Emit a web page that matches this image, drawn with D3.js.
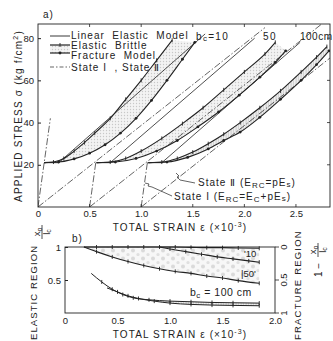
<!DOCTYPE html>
<html><head><meta charset="utf-8">
<script src="https://cdn.jsdelivr.net/npm/d3@7"></script>
<style>
body{margin:0;background:#fff;}
text{font-family:"Liberation Sans",Arial,sans-serif;fill:#222;}
</style></head>
<body><svg id="c" width="333" height="341"></svg>
<script>
// ---------- DATA (top chart a) ----------
const xTicksA = [0, 0.5, 1.0, 1.5, 2.0, 2.5];
const xTickLabelsA = ["0", "0.5", "1.0", "1.5", "2.0", "2.5"];
const yTicksA = [20, 40, 60, 80];
const groupNames = ["b\u2009c=10", "50", "100cm"];
// state I lines (dash-dot), per group
const stateI_1 = [[0, 0], [0.12, 42]];
const stateI_2 = [[0.5, 0], [0.56, 21]];
const stateI_3 = [[1.0, 0], [1.06, 21]];
// state II lines (dash-dot), per group
const stateII_1 = [[0, 0], [2.2, 85]];
const stateII_2 = [[0.5, 0], [2.75, 86.7]];
const stateII_3 = [[1.0, 0], [2.83, 70.6]];
// linear elastic model (solid)
const linear_1 = [[0.06, 21], [0.2, 21], [1.62, 82]];
const linear_2 = [[0.56, 21], [0.7, 21], [2.1, 80]];
const linear_3 = [[1.06, 21], [1.2, 21], [2.54, 78]];
// elastic brittle (upper) and fracture model (lower) curves
const brittle_1 = [[0.06,21],[0.15,21.3],[0.25,23],[0.35,26.5],[0.45,30.5],[0.55,35],[0.7,42],[0.85,51],[1.0,60],[1.15,69.5],[1.3,79]];
const fracture_1 = [[0.06,21],[0.2,21.3],[0.35,22.8],[0.5,25.5],[0.65,29.5],[0.8,35],[0.95,42],[1.1,50.5],[1.25,60],[1.4,70],[1.52,78]];
const brittle_2 = [[0.57,21],[0.7,21.3],[0.85,23],[1.0,26.5],[1.2,32.5],[1.4,39.5],[1.6,47],[1.8,55.5],[2.0,64],[2.2,72.5],[2.3,78]];
const fracture_2 = [[0.57,21],[0.75,21.3],[0.95,23],[1.15,26.5],[1.35,31.5],[1.55,38],[1.75,45],[1.95,53],[2.15,61.5],[2.3,68.5],[2.4,74]];
const brittle_3 = [[1.07,21],[1.2,21.3],[1.35,23],[1.5,26],[1.65,30],[1.8,34.5],[1.96,40],[2.15,47],[2.35,55],[2.55,64],[2.7,71],[2.8,76]];
const fracture_3 = [[1.07,21],[1.25,21.3],[1.45,23.5],[1.65,27.5],[1.8,31.5],[1.96,35.5],[2.15,42.5],[2.35,51],[2.55,60],[2.7,67.5],[2.82,74]];

// ---------- DATA (bottom chart b) ----------
const xTicksB = [0, 0.5, 1.0, 1.5, 2.0];
const xTickLabelsB = ["0", "0.5", "1.0", "1.5", "2.0"];
const yTicksBLeft = [0.5, 1];
const yTicksBRight = [0, 0.5, 1];
const b10_upper = [[0.18,1.0],[0.3,1.0],[0.45,1.0],[0.6,1.0],[0.75,1.0],[0.9,1.0],[1.05,1.0],[1.2,0.995],[1.35,0.99],[1.5,0.99],[1.65,0.985],[1.85,0.98]];
const b10_lower = [[0.9,1.0],[1.0,0.97],[1.15,0.93],[1.3,0.89],[1.45,0.85],[1.6,0.82],[1.75,0.79],[1.85,0.77]];
const b50_lower = [[0.18,1.0],[0.3,0.93],[0.45,0.85],[0.6,0.78],[0.75,0.72],[0.9,0.67],[1.05,0.63],[1.2,0.6],[1.35,0.56],[1.5,0.53],[1.65,0.49],[1.85,0.45]];
const b100_upper = [[0.25,0.6],[0.35,0.47],[0.45,0.36],[0.55,0.28],[0.65,0.23],[0.8,0.2],[1.0,0.18],[1.2,0.17],[1.4,0.16],[1.6,0.155],[1.85,0.15]];
const b100_lower = [[0.4,0.38],[0.5,0.32],[0.6,0.26],[0.7,0.22],[0.85,0.18],[1.0,0.15],[1.2,0.13],[1.4,0.12],[1.6,0.115],[1.85,0.11]];

const svg = d3.select("#c");
const ink = "#222";
const defs = svg.append("defs");
const dots = defs.append("pattern").attr("id","dots").attr("width",3).attr("height",3).attr("patternUnits","userSpaceOnUse");
dots.append("rect").attr("width",3).attr("height",3).attr("fill","#f3f3f3");
dots.append("circle").attr("cx",1.5).attr("cy",1.5).attr("r",0.7).attr("fill","#c8c8c8");
const hatch = defs.append("pattern").attr("id","hatch").attr("width",2.5).attr("height",4).attr("patternUnits","userSpaceOnUse");
hatch.append("rect").attr("width",2.5).attr("height",4).attr("fill","#f4f4f4");
hatch.append("line").attr("x1",1).attr("x2",1).attr("y1",0).attr("y2",4).attr("stroke","#aaa").attr("stroke-width",0.7);
const blobs = defs.append("pattern").attr("id","blobs").attr("width",10).attr("height",8).attr("patternUnits","userSpaceOnUse");
blobs.append("rect").attr("width",10).attr("height",8).attr("fill","#f7f7f7");
blobs.append("circle").attr("cx",3).attr("cy",2.5).attr("r",2).attr("fill","#dadada");
blobs.append("circle").attr("cx",8).attr("cy",6.5).attr("r",1.6).attr("fill","#e0e0e0");

// ================= CHART A =================
const xA = d3.scaleLinear().domain([0, 2.83]).range([38, 330]);
const yA = d3.scaleLinear().domain([0, 86.7]).range([207, 24]);
const gA = svg.append("g");
const clipA = defs.append("clipPath").attr("id","clipA");
clipA.append("rect").attr("x",38).attr("y",24).attr("width",292).attr("height",183);
const plotA = gA.append("g").attr("clip-path","url(#clipA)");
const lineA = d3.line().x(d=>xA(d[0])).y(d=>yA(d[1]));
const curveA = d3.line().x(d=>xA(d[0])).y(d=>yA(d[1])).curve(d3.curveMonotoneX);
const dashdot = "7,2,1.5,2";

function band(up, lo, fill){
  const poly = up.concat(lo.slice().reverse());
  plotA.append("path").attr("d", d3.line().x(d=>xA(d[0])).y(d=>yA(d[1])).curve(d3.curveLinearClosed)(poly))
    .attr("fill", fill).attr("stroke","none");
}
band(brittle_1, fracture_1, "url(#dots)");
band(brittle_2, fracture_2, "url(#dots)");
band(brittle_3, fracture_3, "url(#hatch)");

[stateI_1, stateI_2, stateI_3, stateII_1, stateII_2, stateII_3].forEach(s=>{
  plotA.append("path").attr("d", lineA(s)).attr("fill","none").attr("stroke",ink).attr("stroke-width",0.7).attr("stroke-dasharray",dashdot);
});
[linear_1, linear_2, linear_3].forEach(s=>{
  plotA.append("path").attr("d", lineA(s)).attr("fill","none").attr("stroke",ink).attr("stroke-width",0.8);
});
function markedCurve(g, line, data, xs, ys, kind, w){
  g.append("path").attr("d", line(data)).attr("fill","none").attr("stroke",ink).attr("stroke-width",w);
  data.slice(1).forEach(d=>{
    if(kind==="plus"){
      g.append("line").attr("x1",xs(d[0])).attr("x2",xs(d[0])).attr("y1",ys(d[1])-2).attr("y2",ys(d[1])+2).attr("stroke",ink).attr("stroke-width",0.9);
    } else {
      g.append("circle").attr("cx",xs(d[0])).attr("cy",ys(d[1])).attr("r",1.4).attr("fill",ink);
    }
  });
}
[brittle_1, brittle_2, brittle_3].forEach(s=>markedCurve(plotA, curveA, s, xA, yA, "plus", 1.1));
[fracture_1, fracture_2, fracture_3].forEach(s=>markedCurve(plotA, curveA, s, xA, yA, "dot", 1.1));

// frame
gA.append("rect").attr("x",38).attr("y",24).attr("width",292).attr("height",183).attr("fill","none").attr("stroke",ink).attr("stroke-width",0.9);
// axes
const axBA = gA.append("g").attr("transform","translate(0,207)")
  .call(d3.axisBottom(xA).tickValues(xTicksA).tickSize(0).tickPadding(3).tickFormat((d,i)=>xTickLabelsA[i]));
const axLA = gA.append("g").attr("transform","translate(38,0)")
  .call(d3.axisLeft(yA).tickValues(yTicksA).tickSize(3).tickPadding(1).tickFormat(d3.format("d")));
[axBA, axLA].forEach(a=>{a.select(".domain").remove(); a.selectAll("text").attr("font-size",9.5).attr("fill",ink).attr("font-family","Liberation Sans, Arial");a.selectAll("line").attr("stroke",ink);});
axLA.selectAll("line").attr("x2",3);
// inner ticks top & right
xTicksA.slice(1).forEach(v=>{gA.append("line").attr("x1",xA(v)).attr("x2",xA(v)).attr("y1",24).attr("y2",27).attr("stroke",ink).attr("stroke-width",0.8);
  gA.append("line").attr("x1",xA(v)).attr("x2",xA(v)).attr("y1",207).attr("y2",204).attr("stroke",ink).attr("stroke-width",0.8);});
yTicksA.forEach(v=>gA.append("line").attr("x1",327).attr("x2",330).attr("y1",yA(v)).attr("y2",yA(v)).attr("stroke",ink).attr("stroke-width",0.8));

// labels
gA.append("text").attr("x",43).attr("y",18).attr("font-size",10).attr("letter-spacing",1).text("a)");
gA.append("text").attr("transform","translate(22,116) rotate(-90)").attr("text-anchor","middle").attr("font-size",10).attr("letter-spacing",1.2)
  .html('APPLIED STRESS &#963; (kg f/cm<tspan dy="-4" font-size="7">2</tspan><tspan dy="4">)</tspan>');
gA.append("text").attr("x",180).attr("y",231).attr("text-anchor","middle").attr("font-size",10).attr("letter-spacing",1.1)
  .html('TOTAL STRAIN &#949; (&#215;10<tspan dy="-4" font-size="7">-3</tspan><tspan dy="4">)</tspan>');
// group labels
gA.append("text").attr("x",196).attr("y",40).attr("font-size",10).attr("letter-spacing",1.3).html('b<tspan font-size="8" dy="1">c</tspan><tspan dy="-1">=10</tspan>');
gA.append("text").attr("x",263).attr("y",40).attr("font-size",10).attr("letter-spacing",1.5).text(groupNames[1]);
gA.append("text").attr("x",300).attr("y",40).attr("font-size",10).attr("letter-spacing",0.5).text(groupNames[2]);

// legend
const lg = gA.append("g");
lg.append("line").attr("x1",50).attr("x2",70).attr("y1",36).attr("y2",36).attr("stroke",ink).attr("stroke-width",0.9);
lg.append("rect").attr("x",50).attr("y",45).attr("width",20).attr("height",8).attr("fill","url(#dots)");
lg.append("line").attr("x1",50).attr("x2",70).attr("y1",45).attr("y2",45).attr("stroke",ink).attr("stroke-width",1.2);
lg.append("line").attr("x1",60).attr("x2",60).attr("y1",43).attr("y2",47).attr("stroke",ink).attr("stroke-width",0.9);
lg.append("line").attr("x1",50).attr("x2",70).attr("y1",53).attr("y2",53).attr("stroke",ink).attr("stroke-width",1.2);
lg.append("circle").attr("cx",60).attr("cy",53).attr("r",1.4).attr("fill",ink);
lg.append("line").attr("x1",50).attr("x2",70).attr("y1",67).attr("y2",67).attr("stroke",ink).attr("stroke-width",0.7).attr("stroke-dasharray","4,2,1.5,2");
const legTexts = [["Linear  Elastic  Model",39],["Elastic  Brittle",49],["Fracture  Model",59],["State I  , State \u2161",71]];
legTexts.forEach(t=>lg.append("text").attr("x",71).attr("y",t[1]).attr("font-size",10).attr("letter-spacing",1).attr("xml:space","preserve").text(t[0]));

// annotations (leader lines)
gA.append("path").attr("d","M176,173 l3,3 l-2,1 l3,3 L195,183").attr("fill","none").attr("stroke",ink).attr("stroke-width",0.7);
gA.append("path").attr("d","M145,183 l4,1 l-1,2 l4,1 L172,196").attr("fill","none").attr("stroke",ink).attr("stroke-width",0.7);
gA.append("text").attr("x",198).attr("y",186).attr("font-size",10).attr("letter-spacing",1)
  .html('State \u2161 (E<tspan font-size="8" dy="2">RC</tspan><tspan dy="-2">=pE</tspan><tspan font-size="8" dy="1">s</tspan><tspan dy="-1">)</tspan>');
gA.append("text").attr("x",174).attr("y",200).attr("font-size",10).attr("letter-spacing",1)
  .html('State I (E<tspan font-size="8" dy="2">RC</tspan><tspan dy="-2">=E</tspan><tspan font-size="8" dy="2">C</tspan><tspan dy="-2">+pE</tspan><tspan font-size="8" dy="1">s</tspan><tspan dy="-1">)</tspan>');

// ================= CHART B =================
const xB = d3.scaleLinear().domain([0, 2.0]).range([65, 275]);
const yB = d3.scaleLinear().domain([0, 1]).range([313, 247]);
const gB = svg.append("g");
const lineB = d3.line().x(d=>xB(d[0])).y(d=>yB(d[1])).curve(d3.curveMonotoneX);
function bandB(up, lo, fill){
  const poly = up.concat(lo.slice().reverse());
  gB.append("path").attr("d", d3.line().x(d=>xB(d[0])).y(d=>yB(d[1])).curve(d3.curveLinearClosed)(poly)).attr("fill",fill);
}
bandB(b10_upper, b50_lower, "url(#blobs)");
bandB(b100_upper.slice(5), b100_lower.slice(4), "url(#hatch)");
[b10_upper, b10_lower, b50_lower].forEach(s=>markedCurve(gB, lineB, s, xB, yB, "plus", 1.1));
[b100_upper, b100_lower].forEach(s=>markedCurve(gB, lineB, s, xB, yB, "plus", 1.0));
gB.append("rect").attr("x",65).attr("y",247).attr("width",210).attr("height",66).attr("fill","none").attr("stroke",ink).attr("stroke-width",0.9);
const axBB = gB.append("g").attr("transform","translate(0,313)")
  .call(d3.axisBottom(xB).tickValues(xTicksB).tickSize(0).tickPadding(4).tickFormat((d,i)=>xTickLabelsB[i]));
const axLB = gB.append("g").attr("transform","translate(65,0)")
  .call(d3.axisLeft(yB).tickValues(yTicksBLeft).tickSize(3).tickPadding(1).tickFormat(d=>d===1?"1":"0.5"));
[axBB, axLB].forEach(a=>{a.select(".domain").remove(); a.selectAll("text").attr("font-size",9.5).attr("fill",ink).attr("font-family","Liberation Sans, Arial");a.selectAll("line").attr("stroke",ink);});
axLB.selectAll("line").attr("x2",3);
// right axis: fracture region (1 - x0/lc), rotated labels
yTicksBRight.forEach(v=>{
  const py = yB(1 - v);
  gB.append("line").attr("x1",275).attr("x2",279).attr("y1",py).attr("y2",py).attr("stroke",ink).attr("stroke-width",0.8);
  gB.append("text").attr("transform",`translate(287,${py}) rotate(-90)`).attr("text-anchor","middle").attr("font-size",9.5).text(v===0?"0":v===1?"1":"0.5");
});
gB.append("text").attr("x",72).attr("y",242).attr("font-size",10).attr("letter-spacing",1).text("b)");
gB.append("text").attr("x",190).attr("y",296).attr("font-size",10.5).attr("letter-spacing",0.5)
  .html('b<tspan font-size="8" dy="2">c</tspan><tspan dy="-2"> = 100 cm</tspan>');
gB.append("text").attr("x",244).attr("y",257).attr("font-size",9.5).text("'10");
gB.append("text").attr("x",241).attr("y",277).attr("font-size",9.5).text("|50'");
gB.append("text").attr("x",180).attr("y",338).attr("text-anchor","middle").attr("font-size",10).attr("letter-spacing",1.1)
  .html('TOTAL STRAIN &#949; (&#215;10<tspan dy="-4" font-size="7">-3</tspan><tspan dy="4">)</tspan>');
// left label
gB.append("text").attr("transform","translate(37,340) rotate(-90)").attr("font-size",9.5).attr("letter-spacing",1.1).text("ELASTIC  REGION");
const fr = gB.append("g").attr("transform","translate(42,232) rotate(-90)");
fr.append("text").attr("x",0).attr("y",-2).attr("text-anchor","middle").attr("font-size",9.5).html('x<tspan font-size="7" dy="2">o</tspan>');
fr.append("line").attr("x1",-7).attr("x2",7).attr("y1",0).attr("y2",0).attr("stroke",ink).attr("stroke-width",0.8);
fr.append("text").attr("x",0).attr("y",8).attr("text-anchor","middle").attr("font-size",9.5).html('l<tspan font-size="7" dy="1">c</tspan>');
// right label
gB.append("text").attr("transform","translate(301,340) rotate(-90)").attr("font-size",9.5).attr("letter-spacing",1.2).text("FRACTURE  REGION");
const fr2 = gB.append("g").attr("transform","translate(318,256) rotate(-90)");
fr2.append("text").attr("x",-14).attr("y",4).attr("text-anchor","middle").attr("font-size",10).text("1 \u2212");
fr2.append("text").attr("x",6).attr("y",-2).attr("text-anchor","middle").attr("font-size",9.5).html('x<tspan font-size="7" dy="2">o</tspan>');
fr2.append("line").attr("x1",-1).attr("x2",13).attr("y1",0).attr("y2",0).attr("stroke",ink).attr("stroke-width",0.8);
fr2.append("text").attr("x",6).attr("y",8).attr("text-anchor","middle").attr("font-size",9.5).html('l<tspan font-size="7" dy="1">c</tspan>');
</script></body></html>
